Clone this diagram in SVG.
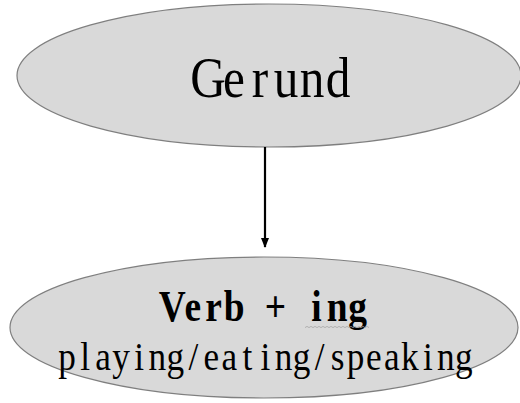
<svg xmlns="http://www.w3.org/2000/svg" width="520" height="403" viewBox="0 0 520 403">
  <defs>
    <style>
      .node { fill: #d9d9d9; stroke: #7f7f7f; stroke-width: 1.2; }
      .label { font-family: "Liberation Serif", "DejaVu Serif", serif; fill: #000; text-anchor: middle; }
      .edge { stroke: #000; stroke-width: 2.2; fill: none; }
    </style>
    <marker id="arrow" markerWidth="10" markerHeight="12" refX="9" refY="5" orient="auto" markerUnits="userSpaceOnUse" viewBox="0 0 10 10">
      <path d="M0,1 L10,5 L0,9 Z" fill="#000"/>
    </marker>
  </defs>
  <rect width="520" height="403" fill="#fff"/>

  <g id="gerund">
    <ellipse class="node" cx="269" cy="75.5" rx="252" ry="71.5"/>
    <text class="label" font-size="58" transform="scale(0.85,1)" y="97"
      x="244.71 275.29 305.88 336.47 367.06 397.65">Gerund</text>
  </g>

  <g id="verb-ing">
    <ellipse class="node" cx="264" cy="327.5" rx="254" ry="70.5"/>
    <text class="label" font-size="44" font-weight="bold" transform="scale(0.85,1)" y="321"
      x="202.71 226.94 251.18 275.41 299.65 323.88 348.12 372.35 396.59 420.82">Verb + ing</text>
    <!-- spell-check squiggle under "ing" -->
    <path d="M305,327.6 l2,-1.2 l2,1.2 l2,-1.2 l2,1.2 l2,-1.2 l2,1.2 l2,-1.2 l2,1.2 l2,-1.2 l2,1.2 l2,-1.2 l2,1.2 l2,-1.2 l2,1.2 l2,-1.2 l2,1.2 l2,-1.2 l2,1.2 l2,-1.2 l2,1.2 l2,-1.2 l2,1.2 l2,-1.2 l2,1.2 l2,-1.2 l2,1.2 l2,-1.2 l2,1.2 l2,-1.2 l2,1.2 l2,-1.2 l2,1.2" fill="none" stroke="#a6a6a6" stroke-width="0.8"/>
    <text class="label" font-size="40" transform="scale(0.88,1)" y="370"
      x="76.14 96.70 117.16 137.61 158.18 178.64 199.09 219.66 240.11 260.68 281.14 301.59 322.16 342.61 363.18 383.64 404.09 424.66 445.11 465.68 486.14 506.59 527.16">playing/eating/speaking</text>
  </g>

  <g id="connectors">
    <line class="edge" x1="265" y1="147" x2="265" y2="247" marker-end="url(#arrow)"/>
  </g>
</svg>
